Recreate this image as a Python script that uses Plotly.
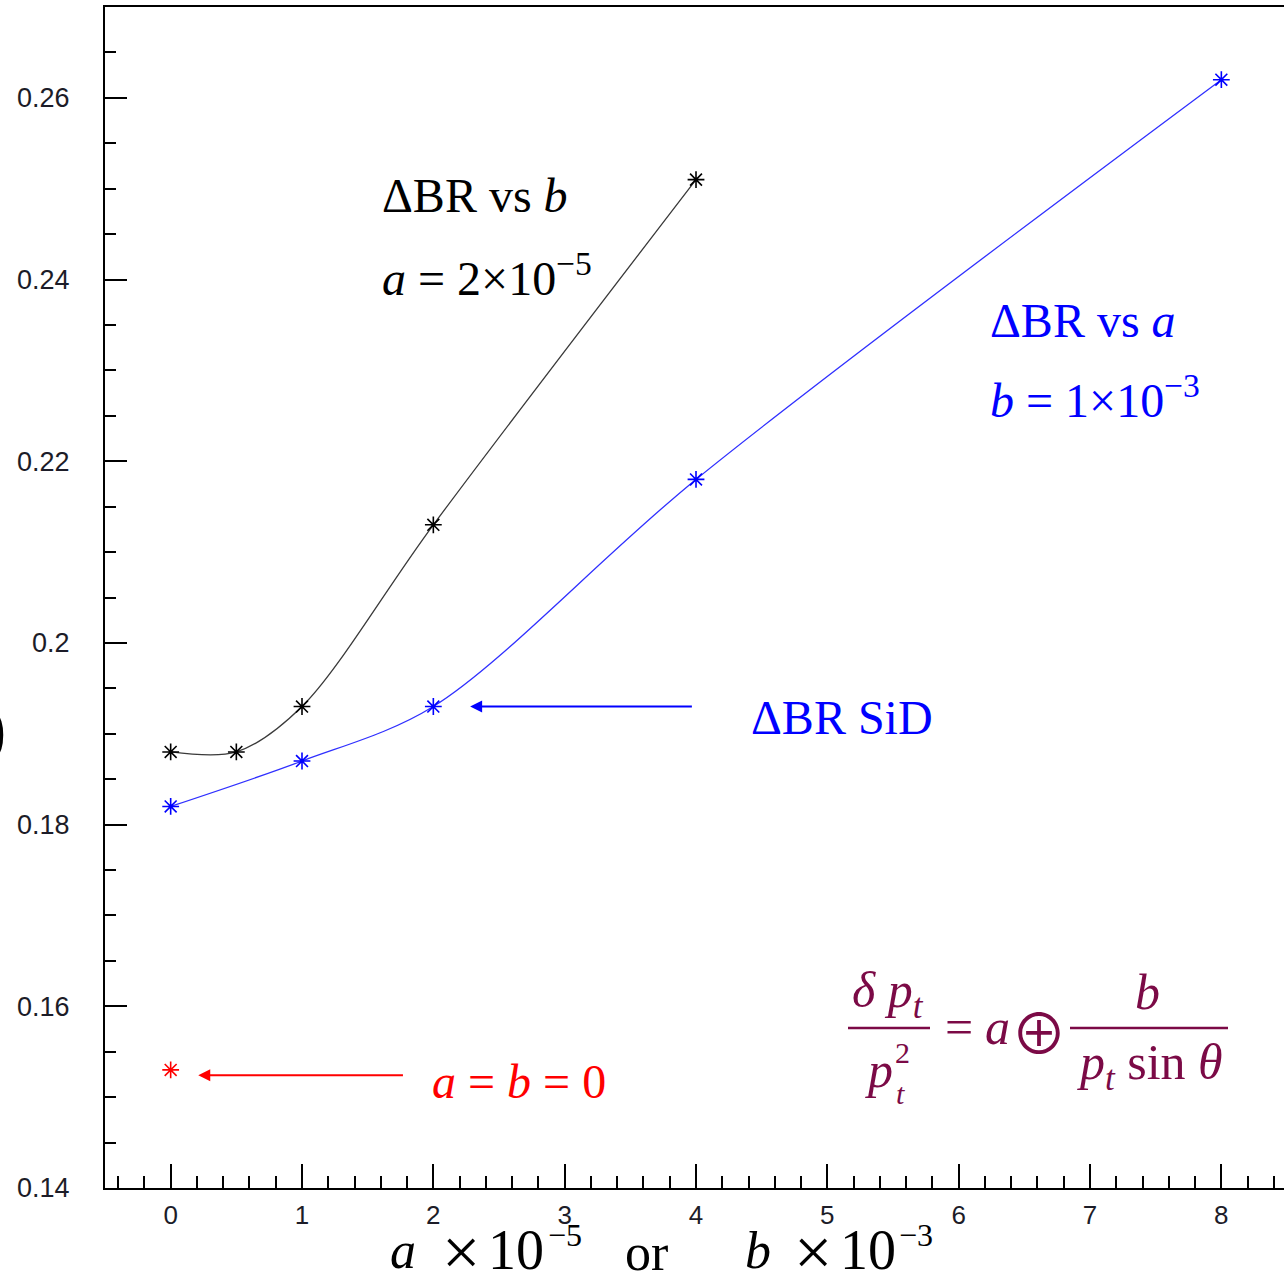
import plotly.graph_objects as go

# ---- data ----
b_vals = [0, 0.5, 1, 2, 4]
dbr_vs_b = [0.188, 0.188, 0.193, 0.213, 0.251]
a_vals = [0, 1, 2, 4, 8]
dbr_vs_a = [0.182, 0.187, 0.193, 0.218, 0.262]
zero_x = [0]
zero_y = [0.153]
x_ticks = [0, 1, 2, 3, 4, 5, 6, 7, 8]
y_ticks = [0.14, 0.16, 0.18, 0.20, 0.22, 0.24, 0.26]
y_ticktext = ["0.14", "0.16", "0.18", "0.2", "0.22", "0.24", "0.26"]

W, H = 1284, 1279
ML, MR, MT, MB = 105, 0, 7, 91
PW, PH = W - ML - MR, H - MT - MB


def px(x, y):
    return (x - ML) / PW, (H - MB - y) / PH


SERIF = "Liberation Serif"
MAROON = "#7b0a46"

fig = go.Figure()
fig.add_trace(go.Scatter(
    x=b_vals, y=dbr_vs_b, mode="lines+markers",
    line=dict(color="#3a3a3a", width=1.3, shape="spline", smoothing=0.9),
    marker=dict(symbol="asterisk-open", size=14, color="black", line=dict(color="black", width=1.6)),
    showlegend=False))
fig.add_trace(go.Scatter(
    x=a_vals, y=dbr_vs_a, mode="lines+markers",
    line=dict(color="#3030ff", width=1.3, shape="spline", smoothing=0.9),
    marker=dict(symbol="asterisk-open", size=14, color="blue", line=dict(color="blue", width=1.6)),
    showlegend=False))
fig.add_trace(go.Scatter(
    x=zero_x, y=zero_y, mode="markers",
    marker=dict(symbol="asterisk-open", size=14, color="red", line=dict(color="red", width=1.6)),
    showlegend=False))

annotations = []


def txt(x, y, text, size, color="black", xanchor="left", yanchor="middle", family=SERIF):
    xp, yp = px(x, y)
    annotations.append(dict(x=xp, y=yp, xref="paper", yref="paper", text=text, showarrow=False,
                            xanchor=xanchor, yanchor=yanchor,
                            font=dict(family=family, size=size, color=color)))


# black label
txt(380, 195, "ΔBR vs <i>b</i>", 48)
txt(380, 275, "<i>a</i> = 2×10<sup>−5</sup>", 48)
# blue label
txt(988, 320, "ΔBR vs <i>a</i>", 48, "blue")
txt(988, 397, "<i>b</i> = 1×10<sup>−3</sup>", 48, "blue")
# SiD
txt(749, 717, "ΔBR SiD", 48, "blue")
# red
txt(430, 1081, "<i>a</i> = <i>b</i> = 0", 48, "red")

# x-axis title pieces
txt(388, 1250, "<i>a</i>", 52)
txt(440, 1252, "×", 68)
txt(486, 1250, "10", 56)
txt(546, 1235, "−5", 32)
txt(623, 1252, "or", 52)
txt(743, 1250, "<i>b</i>", 52)
txt(792, 1252, "×", 68)
txt(838, 1250, "10", 56)
txt(897, 1235, "−3", 32)

# cut-off bracket on the left edge
txt(8, 728, ")", 70, xanchor="right")

# formula
txt(888, 994, "<i>δ p</i><sub><i>t</i></sub>", 50, MAROON, xanchor="center")
txt(879, 1070, "<i>p</i>", 50, MAROON, xanchor="center")
txt(902, 1052, "2", 30, MAROON, xanchor="center")
txt(900, 1093, "<i>t</i>", 30, MAROON, xanchor="center")
txt(943, 1027, "=", 50, MAROON)
txt(983, 1027, "<i>a</i>", 50, MAROON)
txt(1039, 1029, "⊕", 56, MAROON, xanchor="center", family="Noto Sans CJK JP")
txt(1147, 992, "<i>b</i>", 50, MAROON, xanchor="center")
txt(1150, 1066, "<i>p</i><sub><i>t</i></sub> sin <i>θ</i>", 50, MAROON, xanchor="center")

# arrows
annotations.append(dict(x=2.28, y=0.193, ax=3.98, ay=0.193, xref="x", yref="y", axref="x", ayref="y",
                        text="", showarrow=True, arrowhead=2, arrowsize=1.2, arrowwidth=2, arrowcolor="blue"))
annotations.append(dict(x=0.21, y=0.1524, ax=1.78, ay=0.1524, xref="x", yref="y", axref="x", ayref="y",
                        text="", showarrow=True, arrowhead=2, arrowsize=1.2, arrowwidth=2, arrowcolor="red"))

shapes = []
for x0, x1 in [(848, 930), (1070, 1228)]:
    a0, yb = px(x0, 1028)
    a1, _ = px(x1, 1028)
    shapes.append(dict(type="line", xref="paper", yref="paper", x0=a0, x1=a1, y0=yb, y1=yb,
                       line=dict(color=MAROON, width=2.5)))

fig.update_layout(
    width=W, height=H, margin=dict(l=ML, r=MR, t=MT, b=MB),
    paper_bgcolor="white", plot_bgcolor="white",
    annotations=annotations, shapes=shapes,
    xaxis=dict(range=[-0.5, 8.477],
               tickvals=x_ticks, ticks="inside", ticklen=24, tickwidth=1.5, tickcolor="black",
               minor=dict(ticks="inside", dtick=0.2, ticklen=12, tickwidth=1.5, tickcolor="black"),
               showline=True, linecolor="black", linewidth=2, mirror=True,
               showgrid=False, zeroline=False, ticklabelstandoff=3,
               tickfont=dict(family="Liberation Sans", size=26, color="#1c1c28")),
    yaxis=dict(range=[0.14, 0.27], tickvals=y_ticks, ticktext=y_ticktext,
               ticks="inside", ticklen=22, tickwidth=1.5, tickcolor="black",
               minor=dict(ticks="inside", dtick=0.005, ticklen=11, tickwidth=1.5, tickcolor="black"),
               showline=True, linecolor="black", linewidth=2,
               showgrid=False, zeroline=False, ticklabelstandoff=28,
               tickfont=dict(family="Liberation Sans", size=27, color="#1c1c28")),
)

fig.write_html("out.html")
